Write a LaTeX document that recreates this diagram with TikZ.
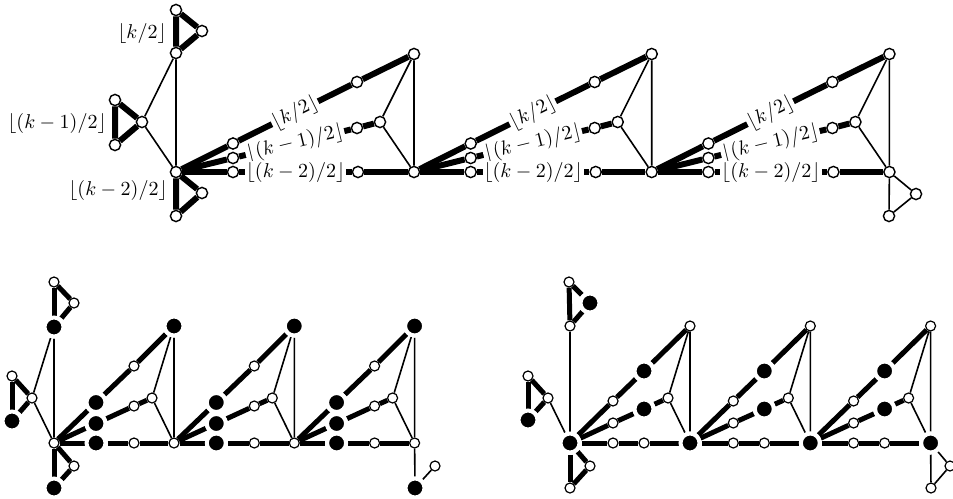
\documentclass[tikz,border=0pt]{standalone}
\pgfdeclarelayer{edgelayer}
\pgfsetlayers{edgelayer,main}
\tikzset{
 wt/.style={circle, draw=black, fill=white, line width=0.7pt, inner sep=0pt, minimum size=5.6pt},
 wb/.style={circle, draw=black, fill=white, line width=0.6pt, inner sep=0pt, minimum size=5pt},
 bb/.style={circle, draw=white, fill=black, line width=2pt, inner sep=0pt, minimum size=9.5pt},
 thk/.style={line width=3pt},
 thkb/.style={line width=2.5pt},
 thn/.style={line width=0.8pt},
 lab/.style={font=\fontsize{10}{12}\selectfont, fill=white, inner sep=0.6pt},
 txt/.style={font=\fontsize{10}{12}\selectfont, inner sep=0pt},
}
\begin{document}
\begin{tikzpicture}[x=0.5pt,y=-0.5pt]
\useasboundingbox (0,0) rectangle (953,498);
% ================= TOP =================
\node[wt] (tT1) at (176,10) {};
\node[wt] (tT2) at (202,31) {};
\node[wt] (tT3) at (176,53) {};
\node[wt] (tM1) at (115,100) {};
\node[wt] (tM2) at (142,122) {};
\node[wt] (tM3) at (115,145) {};
\node[wt] (tH0) at (176,172) {};
\node[wt] (tB1) at (202,193) {};
\node[wt] (tB2) at (176,216) {};
\node[txt] (tL1) at (142,34) {$\lfloor k/2\rfloor$};
\node[txt] (tL2) at (57,123) {$\lfloor (k-1)/2\rfloor$};
\node[txt] (tL3) at (118,190) {$\lfloor (k-2)/2\rfloor$};
\foreach \i in {0,1,2}{
  \pgfmathsetmacro\x{176+237.7*\i}
  \pgfmathtruncatemacro\j{\i+1}
  \node[wt] (tua\i) at (\x+57,143.5) {};
  \node[wt] (tub\i) at (\x+57,158) {};
  \node[wt] (tuc\i) at (\x+57,172) {};
  \node[wt] (tva\i) at (\x+181,82) {};
  \node[wt] (tvb\i) at (\x+181,128) {};
  \node[wt] (tvc\i) at (\x+182,172) {};
  \node[wt] (tm\i) at (\x+204,122) {};
  \node[wt] (ta\i) at (\x+238,54) {};
  \node[wt] (tH\j) at (\x+238,172) {};
}
\node[wt] (tX1) at (916,194) {};
\node[wt] (tX2) at (889,216) {};
% ================= BOTTOM LEFT =================
\node[wb] (lP1) at (54,282) {};
\node[wb] (lP2) at (74,303) {};
\node[bb] (lP3) at (54,327) {};
\node[wb] (lQ1) at (12,376) {};
\node[wb] (lQ2) at (32,398) {};
\node[bb] (lQ3) at (12,421) {};
\node[wb] (lH0) at (54,443) {};
\node[wb] (lR1) at (74,466) {};
\node[bb] (lR2) at (54,488) {};
\foreach \i in {0,1,2}{
  \pgfmathsetmacro\x{54+120.3*\i}
  \pgfmathtruncatemacro\j{\i+1}
  \node[bb] (lfa\i) at (\x+42,402.5) {};
  \node[bb] (lfb\i) at (\x+42,423.5) {};
  \node[bb] (lfc\i) at (\x+42,443) {};
  \node[wb] (lsa\i) at (\x+80,366) {};
  \node[wb] (lsb\i) at (\x+80,406) {};
  \node[wb] (lsc\i) at (\x+80,443) {};
  \node[wb] (lm\i) at (\x+98,398) {};
  \node[bb] (la\i) at (\x+120,326) {};
  \node[wb] (lH\j) at (\x+120,443) {};
}
\node[bb] (lZ1) at (415,488) {};
\node[wb] (lZ2) at (435,466) {};
% ================= BOTTOM RIGHT =================
\node[wb] (rP1) at (569,282) {};
\node[bb] (rP2) at (590,303) {};
\node[wb] (rP3) at (570,326) {};
\node[wb] (rQ1) at (528,376) {};
\node[wb] (rQ2) at (548,398) {};
\node[bb] (rQ3) at (528,420) {};
\node[bb] (rH0) at (570,443) {};
\node[wb] (rR1) at (590,466) {};
\node[wb] (rR2) at (570,488) {};
\foreach \i in {0,1,2}{
  \pgfmathsetmacro\x{570+120.3*\i}
  \pgfmathtruncatemacro\j{\i+1}
  \node[wb] (rfa\i) at (\x+43,401) {};
  \node[wb] (rfb\i) at (\x+43,423) {};
  \node[wb] (rfc\i) at (\x+43,443) {};
  \node[bb] (rsa\i) at (\x+74,371) {};
  \node[bb] (rsb\i) at (\x+74,409) {};
  \node[wb] (rsc\i) at (\x+74,443) {};
  \node[wb] (rm\i) at (\x+98,398) {};
  \node[wb] (ra\i) at (\x+120,326) {};
  \node[bb] (rH\j) at (\x+120,443) {};
}
\node[wb] (rZ1) at (950,466) {};
\node[wb] (rZ2) at (931,488) {};
% ================= EDGES =================
\begin{pgfonlayer}{edgelayer}
% top
\draw[thk] (tT1) -- (tT3) -- (tT2) -- (tT1);
\draw[thk] (tM1) -- (tM3) -- (tM2) -- (tM1);
\draw[thk] (tH0) -- (tB2) -- (tB1) -- (tH0);
\draw[thn] (tT3) -- (tM2) -- (tH0) -- (tT3);
\foreach \i in {0,1,2}{
  \pgfmathtruncatemacro\j{\i+1}
  \draw[thk] (tH\i) -- (tua\i);
  \draw[thk] (tH\i) -- (tub\i);
  \draw[thk] (tH\i) -- (tuc\i);
  \draw[thk] (tua\i) -- node[lab,sloped] (tka\i) {$\lfloor k/2\rfloor$} (tva\i);
  \draw[thk] (tub\i) -- node[lab,sloped] (tkb\i) {$\lfloor (k-1)/2\rfloor$} (tvb\i);
  \draw[thk] (tuc\i) -- node[lab] (tkc\i) {$\lfloor (k-2)/2\rfloor$} (tvc\i);
  \draw[thk] (tva\i) -- (ta\i);
  \draw[thk] (tvb\i) -- (tm\i);
  \draw[thk] (tvc\i) -- (tH\j);
  \draw[thn] (ta\i) -- (tm\i) -- (tH\j) -- (ta\i);
}
\draw[thn] (tH3) -- (tX1) -- (tX2) -- (tH3);
% bottom left
\draw[thkb] (lP1) -- (lP3);
\draw[thkb] (lP1) -- (lP2) -- (lP3);
\draw[thkb] (lQ1) -- (lQ3);
\draw[thkb] (lQ1) -- (lQ2) -- (lQ3);
\draw[thkb] (lH0) -- (lR2);
\draw[thkb] (lH0) -- (lR1) -- (lR2);
\draw[thn] (lP3) -- (lQ2) -- (lH0) -- (lP3);
\foreach \i in {0,1,2}{
  \pgfmathtruncatemacro\j{\i+1}
  \draw[thkb] (lH\i) -- (lfa\i) -- (lsa\i) -- (la\i);
  \draw[thkb] (lH\i) -- (lfb\i) -- (lsb\i) -- (lm\i);
  \draw[thkb] (lH\i) -- (lfc\i) -- (lsc\i) -- (lH\j);
  \draw[thn] (la\i) -- (lm\i) -- (lH\j) -- (la\i);
}
\draw[thn] (lH3) -- (lZ1) -- (lZ2);
% bottom right
\draw[thkb] (rP1) -- (rP3);
\draw[thkb] (rP1) -- (rP2) -- (rP3);
\draw[thkb] (rQ1) -- (rQ3);
\draw[thkb] (rQ1) -- (rQ2) -- (rQ3);
\draw[thkb] (rH0) -- (rR2);
\draw[thkb] (rH0) -- (rR1) -- (rR2);
\draw[thn] (rP3) -- (rH0);
\draw[thn] (rQ2) -- (rH0);
\foreach \i in {0,1,2}{
  \pgfmathtruncatemacro\j{\i+1}
  \draw[thkb] (rH\i) -- (rfa\i) -- (rsa\i) -- (ra\i);
  \draw[thkb] (rH\i) -- (rfb\i) -- (rsb\i) -- (rm\i);
  \draw[thkb] (rH\i) -- (rfc\i) -- (rsc\i) -- (rH\j);
  \draw[thn] (ra\i) -- (rm\i) -- (rH\j) -- (ra\i);
}
\draw[thn] (rH3) -- (rZ2) -- (rZ1) -- (rH3);
\end{pgfonlayer}
\end{tikzpicture}
\end{document}
